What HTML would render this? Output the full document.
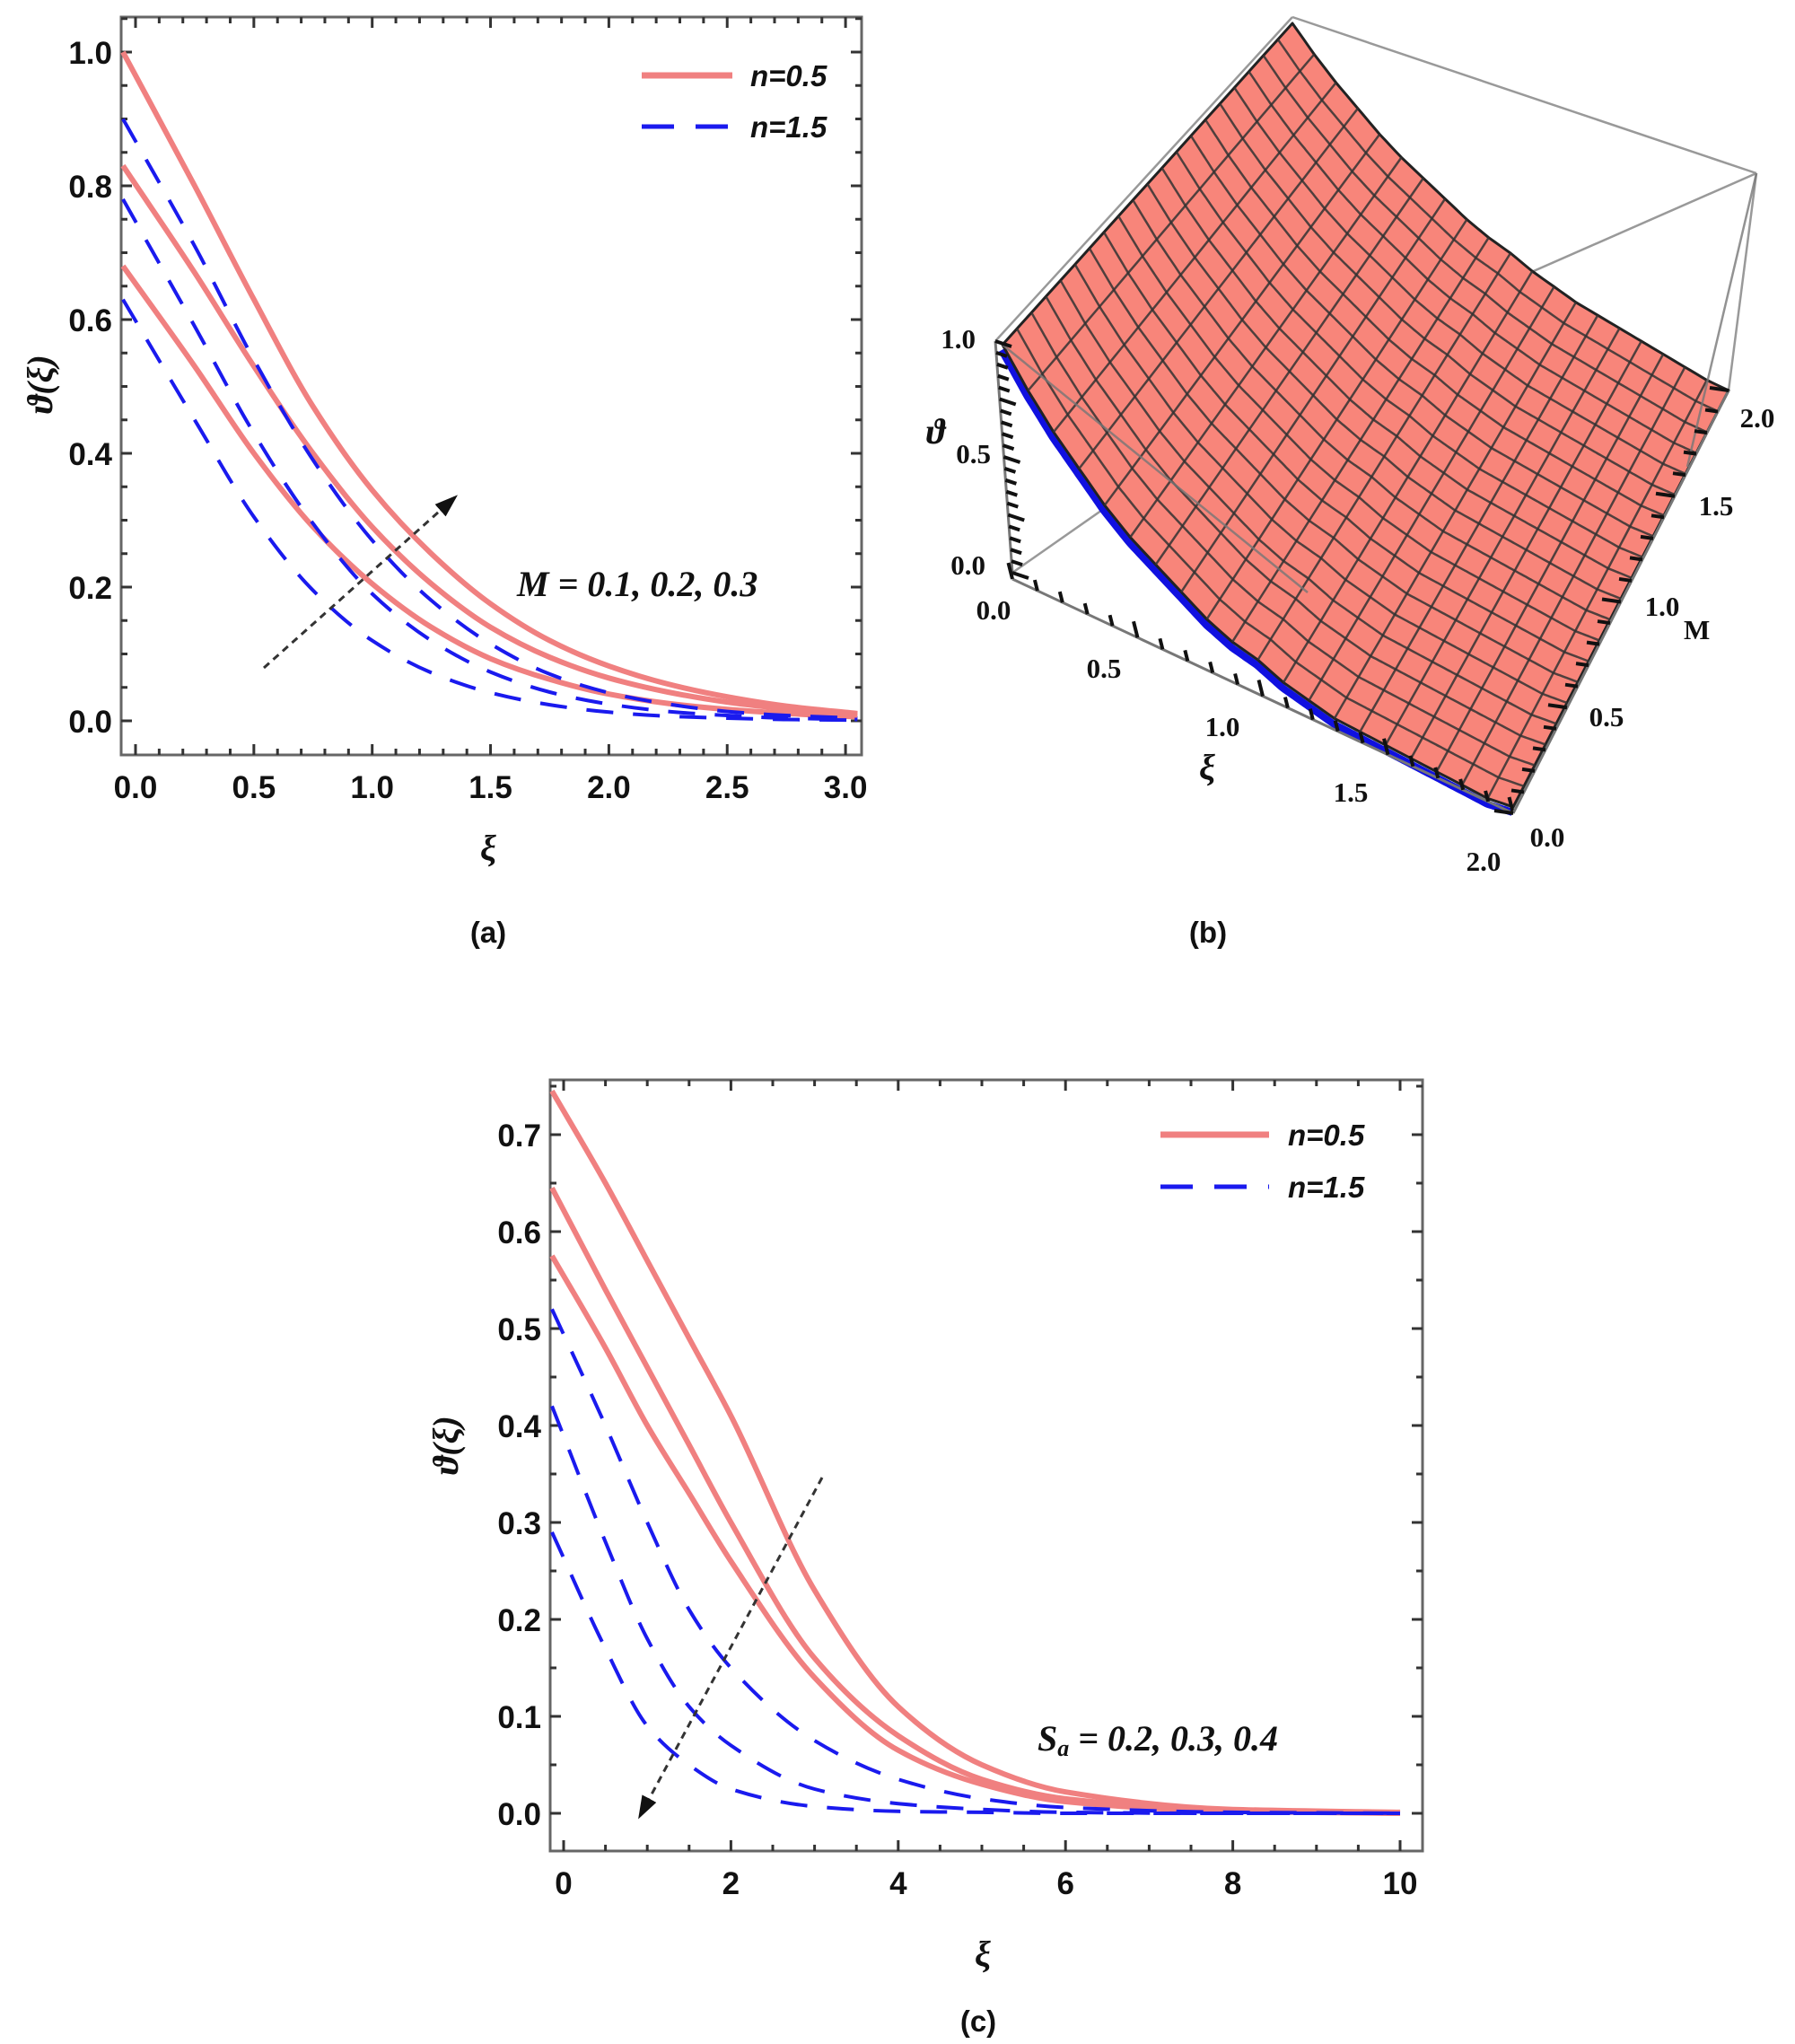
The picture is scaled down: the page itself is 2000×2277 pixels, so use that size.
<!DOCTYPE html>
<html><head><meta charset="utf-8">
<style>
html,body{margin:0;padding:0;background:#fff;}
svg{display:block;}
.tk{font-family:"Liberation Sans",sans-serif;font-weight:bold;font-size:35px;fill:#111;}
.ann{font-family:"Liberation Serif",serif;font-style:italic;font-weight:bold;font-size:40px;fill:#111;}
.leg{font-family:"Liberation Sans",sans-serif;font-style:italic;font-weight:bold;font-size:33px;fill:#111;}
.cap{font-family:"Liberation Sans",sans-serif;font-weight:bold;font-size:33px;fill:#111;}
.t3{font-family:"Liberation Serif",serif;font-weight:bold;font-size:31px;fill:#111;}
</style></head>
<body>
<svg id="fig" xmlns="http://www.w3.org/2000/svg" width="2000" height="2277" viewBox="0 0 2000 2277">
<defs>
<marker id="ah2" markerWidth="26" markerHeight="26" refX="22" refY="13" orient="auto" markerUnits="userSpaceOnUse" viewBox="0 0 26 26">
<path d="M0,4 L26,13 L0,22 z" fill="#111"/></marker>
</defs>
</svg>
<script>
// ---------- Panel (a) data ----------
const aX = [-0.06,0.25,0.5,0.75,1,1.25,1.5,1.75,2,2.25,2.5,2.75,3.05];
const aSolid1 = [1.0,0.80,0.63,0.47,0.345,0.25,0.175,0.12,0.082,0.055,0.036,0.022,0.011];
const aSolid2 = [0.83,0.67,0.53,0.40,0.29,0.205,0.14,0.095,0.064,0.043,0.028,0.018,0.009];
const aSolid3 = [0.68,0.53,0.40,0.29,0.205,0.14,0.093,0.062,0.04,0.026,0.017,0.011,0.006];
const aDash1 = [0.90,0.71,0.54,0.39,0.27,0.18,0.115,0.07,0.042,0.025,0.014,0.008,0.004];
const aDash2 = [0.78,0.59,0.43,0.295,0.19,0.12,0.073,0.043,0.025,0.014,0.008,0.004,0.002];
const aDash3 = [0.63,0.45,0.305,0.195,0.12,0.072,0.042,0.024,0.013,0.007,0.004,0.002,0.001];
const aXTicks = ["0.0","0.5","1.0","1.5","2.0","2.5","3.0"];
const aYTicks = ["0.0","0.2","0.4","0.6","0.8","1.0"];
// ---------- Panel (c) data ----------
const cX = [-0.15,0.5,1,1.5,2,3,4,5,6,8,10];
const cSolid1 = [0.745,0.65,0.57,0.49,0.41,0.23,0.11,0.05,0.022,0.004,0.001];
const cSolid2 = [0.645,0.54,0.46,0.38,0.3,0.16,0.08,0.035,0.015,0.003,0.0];
const cSolid3 = [0.575,0.48,0.4,0.33,0.26,0.14,0.065,0.03,0.012,0.002,0.0];
const cDash1 = [0.52,0.4,0.3,0.21,0.15,0.075,0.035,0.015,0.006,0.001,0.0];
const cDash2 = [0.42,0.28,0.18,0.11,0.07,0.025,0.01,0.004,0.001,0.0,0.0];
const cDash3 = [0.29,0.17,0.09,0.05,0.025,0.007,0.002,0.001,0.0,0.0,0.0];
const cXTicks = ["0","2","4","6","8","10"];
const cYTicks = ["0.0","0.1","0.2","0.3","0.4","0.5","0.6","0.7"];
// ---------- Panel (b) data ----------
const bXi = [0,0.1,0.2,0.3,0.4,0.5,0.6,0.7,0.8,0.9,1.0,1.1,1.2,1.3,1.4,1.5,1.6,1.7,1.8,1.9,2.0];
const bTheta = [1.0,0.91,0.83,0.76,0.69,0.63,0.58,0.53,0.48,0.44,0.41,0.37,0.34,0.31,0.29,0.27,0.25,0.23,0.21,0.19,0.18];
const bXiTicks = ["0.0","0.5","1.0","1.5","2.0"];
const bMTicks = ["0.0","0.5","1.0","1.5","2.0"];
const bZTicks = ["0.0","0.5","1.0"];

const NS="http://www.w3.org/2000/svg";
const svg=document.getElementById('fig');
function mk(tag,attrs,parent){const e=document.createElementNS(NS,tag);for(const k in attrs)e.setAttribute(k,attrs[k]);(parent||svg).appendChild(e);return e;}
function smooth(pts){let d="M"+pts[0][0].toFixed(1)+","+pts[0][1].toFixed(1);
 for(let i=0;i<pts.length-1;i++){const p0=pts[Math.max(0,i-1)],p1=pts[i],p2=pts[i+1],p3=pts[Math.min(pts.length-1,i+2)];
  const c1=[p1[0]+(p2[0]-p0[0])/6,p1[1]+(p2[1]-p0[1])/6],c2=[p2[0]-(p3[0]-p1[0])/6,p2[1]-(p3[1]-p1[1])/6];
  d+=" C"+c1[0].toFixed(1)+","+c1[1].toFixed(1)+" "+c2[0].toFixed(1)+","+c2[1].toFixed(1)+" "+p2[0].toFixed(1)+","+p2[1].toFixed(1);}
 return d;}
function monotone(pts){const n=pts.length;const dx=[],dy=[],m=[];
 for(let i=0;i<n-1;i++){dx.push(pts[i+1][0]-pts[i][0]);dy.push(pts[i+1][1]-pts[i][1]);m.push(dy[i]/dx[i]);}
 const t=[m[0]];for(let i=1;i<n-1;i++){if(m[i-1]*m[i]<=0)t.push(0);else{const w1=2*dx[i]+dx[i-1],w2=dx[i]+2*dx[i-1];t.push((w1+w2)/(w1/m[i-1]+w2/m[i]));}}
 t.push(m[n-2]);
 let d="M"+pts[0][0].toFixed(1)+","+pts[0][1].toFixed(1);
 for(let i=0;i<n-1;i++){const h=dx[i]/3;
  d+=" C"+(pts[i][0]+h).toFixed(1)+","+(pts[i][1]+t[i]*h).toFixed(1)+" "+(pts[i+1][0]-h).toFixed(1)+","+(pts[i+1][1]-t[i+1]*h).toFixed(1)+" "+pts[i+1][0].toFixed(1)+","+pts[i+1][1].toFixed(1);}
 return d;}

function panel(cfg){
 const g=mk('g',{});
 
 
 const sx=v=>cfg.x0px+(v-cfg.xmin)*cfg.xs, sy=v=>cfg.y0px-(v-cfg.ymin)*cfg.ys;
 const fr=mk('rect',{x:cfg.L,y:cfg.T,width:cfg.R-cfg.L,height:cfg.B-cfg.T,fill:'none',stroke:'#666','stroke-width':3},g);
 
 
 for(let v=cfg.xmin;v<=cfg.xmaxT+1e-9;v+=cfg.xminor){const X=sx(v);if(X<cfg.L||X>cfg.R)continue;
  const major=Math.abs(v/cfg.xmajor-Math.round(v/cfg.xmajor))<1e-6;const len=major?12:7;
  mk('line',{x1:X,y1:cfg.B,x2:X,y2:cfg.B-len,stroke:'#333','stroke-width':3},g);
  mk('line',{x1:X,y1:cfg.T,x2:X,y2:cfg.T+len,stroke:'#333','stroke-width':3},g);}
 for(let v=cfg.ymin;v<=cfg.ymaxT+1e-9;v+=cfg.yminor){const Y=sy(v);if(Y<cfg.T||Y>cfg.B)continue;
  const major=Math.abs(v/cfg.ymajor-Math.round(v/cfg.ymajor))<1e-6;const len=major?12:7;
  mk('line',{x1:cfg.L,y1:Y,x2:cfg.L+len,y2:Y,stroke:'#333','stroke-width':3},g);
  mk('line',{x1:cfg.R,y1:Y,x2:cfg.R-len,y2:Y,stroke:'#333','stroke-width':3},g);}
 cfg.xt.forEach((s,i)=>{const t=mk('text',{x:sx(cfg.xmin+i*cfg.xmajor),y:cfg.B+48,'text-anchor':'middle',class:'tk'},g);t.textContent=s;
  
  });
 cfg.yt.forEach((s,i)=>{const t=mk('text',{x:cfg.L-10,y:sy(cfg.ymin+i*cfg.ymajor)+13,'text-anchor':'end',class:'tk'},g);t.textContent=s;
  
  });
 cfg.series.forEach((s,i)=>{const pts=cfg.xs_.map((x,j)=>[Math.max(cfg.L+2,sx(x)),sy(s.v[j])]);
  const p=mk('path',{d:monotone(pts),fill:'none',stroke:s.dash?'#1a1aee':'#f08080','stroke-width':s.dash?4:6,'stroke-dasharray':s.dash?'30,22':'none'},g);
  
  });
 const lg=mk('g',{},g);
 
 
 mk('line',{x1:cfg.lgx1,y1:cfg.lgy1,x2:cfg.lgx2,y2:cfg.lgy1,stroke:'#f08080','stroke-width':7},lg);
 mk('line',{x1:cfg.lgx1,y1:cfg.lgy2,x2:cfg.lgx2,y2:cfg.lgy2,stroke:'#1a1aee','stroke-width':5,'stroke-dasharray':'36,24'},lg);
 const l1=mk('text',{x:cfg.lgt,y:cfg.lgy1+12,class:'leg'},lg);l1.textContent='n=0.5';
 const l2=mk('text',{x:cfg.lgt,y:cfg.lgy2+12,class:'leg'},lg);l2.textContent='n=1.5';
 return g;
}

panel({name:'panel-a-plot',L:135,R:960,T:19,B:841,x0px:151,xmin:0,xs:263.7,y0px:803,ymin:0,ys:745,
 xmajor:0.5,xminor:0.1,xmaxT:3.1,ymajor:0.2,yminor:0.05,ymaxT:1.06,xt:aXTicks,yt:aYTicks,xs_:aX,
 series:[{v:aSolid1},{v:aSolid2},{v:aSolid3},{v:aDash1,dash:1},{v:aDash2,dash:1},{v:aDash3,dash:1}],
 lgx1:715,lgx2:816,lgy1:84,lgy2:141,lgt:836});
panel({name:'panel-c-plot',L:613,R:1585,T:1203,B:2062,x0px:628,xmin:0,xs:93.2,y0px:2020,ymin:0,ys:1080,
 xmajor:2,xminor:0.5,xmaxT:10.3,ymajor:0.1,yminor:0.05,ymaxT:0.78,xt:cXTicks,yt:cYTicks,xs_:cX,
 series:[{v:cSolid1},{v:cSolid2},{v:cSolid3},{v:cDash1,dash:1},{v:cDash2,dash:1},{v:cDash3,dash:1}],
 lgx1:1293,lgx2:1414,lgy1:1264,lgy2:1322,lgt:1435});

let e;
e=mk('text',{x:576,y:664,class:'ann'});e.textContent='M = 0.1,  0.2, 0.3';


e=mk('text',{x:1156,y:1950,class:'ann'});e.innerHTML='S<tspan font-size="26" dy="6">a</tspan><tspan dy="-6"> = 0.2,  0.3, 0.4</tspan>';


e=mk('line',{x1:294,y1:744,x2:507,y2:554,stroke:'#333','stroke-width':3,'stroke-dasharray':'8,6','marker-end':'url(#ah2)'});


e=mk('line',{x1:916,y1:1646,x2:713,y2:2023,stroke:'#333','stroke-width':3,'stroke-dasharray':'8,6','marker-end':'url(#ah2)'});


function ylab(x,y,name){const t=mk('text',{x:0,y:0,transform:`translate(${x},${y}) rotate(-90)`,'text-anchor':'middle',class:'ann','font-size':'52'});t.textContent='ϑ(ξ)';
 
 }
ylab(58,428,'y-axis-title-a');ylab(510,1610,'y-axis-title-c');
function xl(x,y,name){const t=mk('text',{x:x,y:y,'text-anchor':'middle',class:'ann','font-size':'64'});t.textContent='ξ';
 
 }
xl(544,958,'x-axis-title-a');xl(1095,2190,'x-axis-title-c');
function cap(x,y,s,name){const t=mk('text',{x:x,y:y,'text-anchor':'middle',class:'cap'});t.textContent=s;
 
 }
cap(544,1050,'(a)','caption-a');cap(1346,1050,'(b)','caption-b');cap(1090,2263,'(c)','caption-c');

// ---------- Panel (b) 3D surface ----------
const gb=mk('g',{});


const A=[1117,384],Bk=[1440,26],Cc=[1926,435],D=[1686,899];
const SAG=520;
function thetaAt(xi){for(let i=0;i<bXi.length-1;i++){if(xi<=bXi[i+1]+1e-9){const t=(xi-bXi[i])/(bXi[i+1]-bXi[i]);return bTheta[i]+t*(bTheta[i+1]-bTheta[i]);}}return bTheta[bTheta.length-1];}
function P(xi,M){const u=xi/2,v=M/2;
 const x=(1-u)*(1-v)*A[0]+(1-u)*v*Bk[0]+u*v*Cc[0]+u*(1-v)*D[0];
 let y=(1-u)*(1-v)*A[1]+(1-u)*v*Bk[1]+u*v*Cc[1]+u*(1-v)*D[1];
 const lin=bTheta[0]+u*(bTheta[bTheta.length-1]-bTheta[0]);
 y+= (lin-thetaAt(xi))*SAG*(1-0.45*v);
 return [x,y];}
const boxPts=[[[1109,380],[1440,19]],[[1440,19],[1957,193]],[[1957,193],[1926,435]],[[1128,638],[1440,420]],[[1440,420],[1957,193]],[[1117,384],[1457,660]],[[1457,660],[1686,906]],[[1457,660],[1926,435]]];
boxPts.forEach(b=>{e=mk('line',{x1:b[0][0],y1:b[0][1],x2:b[1][0],y2:b[1][1],stroke:'#999','stroke-width':2.5},gb);
 
 });
const edge=[];for(let i=0;i<=80;i++){const p=P(i*0.025,0);edge.push([p[0]-1,p[1]+6]);}
e=mk('path',{d:smooth(edge),fill:'none',stroke:'#1010e0','stroke-width':8},gb);


const outline=[];const N=20;const F=4;
for(let i=0;i<=N*F;i++)outline.push(P(i*2/(N*F),0));
for(let j=0;j<=N;j++)outline.push(P(2,j*2/N));
for(let i=N*F;i>=0;i--)outline.push(P(i*2/(N*F),2));
for(let j=N;j>=0;j--)outline.push(P(0,j*2/N));
e=mk('polygon',{points:outline.map(p=>p[0].toFixed(1)+','+p[1].toFixed(1)).join(' '),fill:'#f8857a',stroke:'#222','stroke-width':3,'stroke-linejoin':'round'},gb);


for(let k=1;k<N;k++){
 const l1=[],l2=[];for(let m=0;m<=N;m++){l1.push(P(k*2/N,m*2/N));}
 for(let m=0;m<=N*F;m++){l2.push(P(m*2/(N*F),k*2/N));}
 e=mk('path',{d:smooth(l1),fill:'none',stroke:'#333','stroke-width':2.5,opacity:0.85},gb);
 
 
 e=mk('path',{d:smooth(l2),fill:'none',stroke:'#333','stroke-width':2.5,opacity:0.85},gb);
 
 }
e=mk('line',{x1:1117,y1:384,x2:1457,y2:660,stroke:'#777','stroke-width':2.5,opacity:0.8},gb);


e=mk('line',{x1:1957,y1:193,x2:1880,y2:520,stroke:'#777','stroke-width':2.5,opacity:0.8},gb);


function axis3(p0,p1,n,tdx,tdy,name){e=mk('line',{x1:p0[0],y1:p0[1],x2:p1[0],y2:p1[1],stroke:'#777','stroke-width':3},gb);
 
 
 for(let i=0;i<=n;i++){const t=i/n,x=p0[0]+t*(p1[0]-p0[0]),y=p0[1]+t*(p1[1]-p0[1]);const l=(i%5==0)?1.5:1;
  mk('line',{x1:x,y1:y,x2:x+tdx*l,y2:y+tdy*l,stroke:'#111','stroke-width':4},gb);}}
axis3([1109,380],[1128,638],20,12,4,'theta-axis');
axis3([1128,645],[1686,906],20,-3,-12,'xi-axis');
axis3([1686,906],[1926,435],20,-14,-2,'m-axis');
function t3(x,y,s,name,anchor){const t=mk('text',{x:x,y:y,class:'t3','text-anchor':anchor||'middle'},gb);t.textContent=s;
 
 }
const zPos=[[1098,640],[1104,516],[1087,388]];
bZTicks.forEach((s,i)=>t3(zPos[i][0],zPos[i][1],s,'z-tick-label','end'));
const xiPos=[[1107,690],[1230,755],[1362,820],[1505,893],[1653,970]];
bXiTicks.forEach((s,i)=>t3(xiPos[i][0],xiPos[i][1],s,'xi-tick-label'));
const mPos=[[1724,943],[1790,809],[1852,686],[1912,574],[1958,476]];
bMTicks.forEach((s,i)=>t3(mPos[i][0],mPos[i][1],s,'m-tick-label'));
e=mk('text',{x:1876,y:712,class:'t3','font-family':'Liberation Sans'},gb);e.textContent='M';


e=mk('text',{x:1336,y:868,class:'ann','font-size':'34','font-weight':'normal'},gb);e.textContent='ξ';


e=mk('text',{x:1032,y:494,class:'ann','font-size':'22','font-weight':'normal'},gb);e.textContent='ϑ';


</script>
</body></html>
